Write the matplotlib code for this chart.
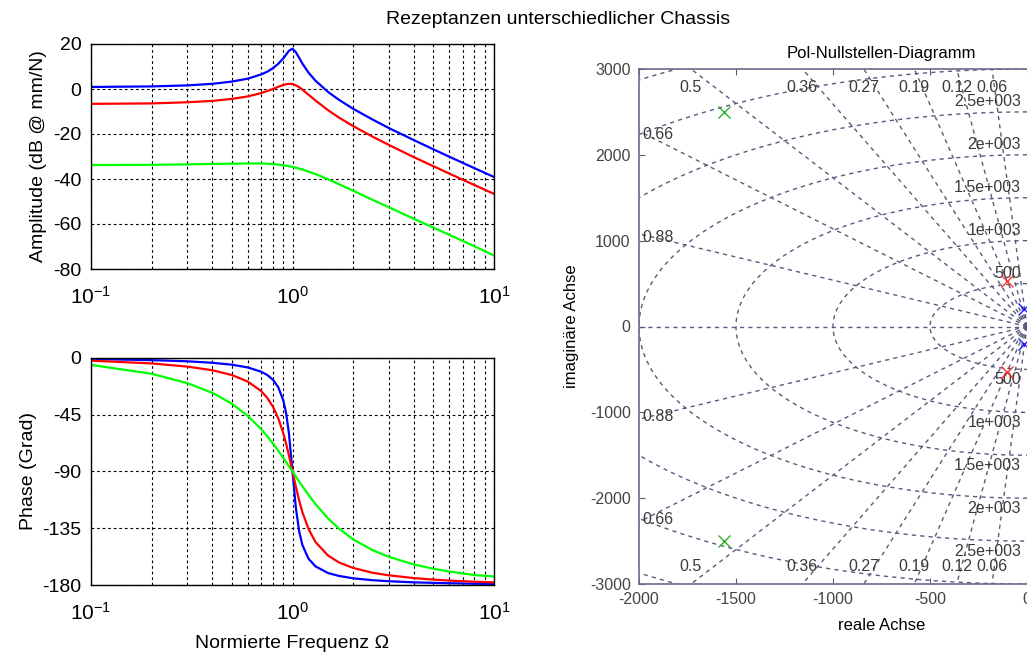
import numpy as np
import matplotlib
matplotlib.use("Agg")
import matplotlib.pyplot as plt

plt.rcParams['font.family'] = ['Liberation Sans', 'DejaVu Sans']
plt.rcParams['mathtext.default'] = 'regular'
plt.rcParams['axes.unicode_minus'] = False

# normierte Frequenz
omega = [0.1, 0.2, 0.3, 0.4, 0.5, 0.6, 0.7, 0.75, 0.8, 0.85, 0.9, 0.93, 0.96, 1.0,
         1.04, 1.08, 1.12, 1.2, 1.3, 1.5, 1.7, 2, 2.5, 3, 4, 5, 6, 8, 10]

# Amplitude in dB
amp_blue = [0.9, 1.15, 1.6, 2.3, 3.3, 4.6, 6.5, 7.7, 9.3, 11.2, 13.6, 15.3, 17.0, 17.9,
            16.3, 13.8, 11.3, 7.3, 3.7, -1.3, -4.8, -8.8, -13.6, -17.3, -22.7, -26.8,
            -30.1, -35.2, -39.1]
amp_red = [-6.6, -6.4, -5.9, -5.3, -4.4, -3.3, -1.8, -0.9, 0.0, 1.0, 1.8, 2.1, 2.3, 2.2,
           1.6, 0.8, -0.3, -2.5, -5.1, -9.4, -12.7, -16.5, -21.2, -24.8, -30.3, -34.3,
           -37.6, -42.7, -46.6]
amp_green = [-33.8, -33.7, -33.5, -33.3, -33.2, -33.1, -33.1, -33.2, -33.4, -33.6, -33.9,
             -34.1, -34.3, -34.6, -35.0, -35.4, -35.8, -36.7, -37.8, -40.1, -42.3, -45.2,
             -49.3, -52.5, -57.7, -61.6, -64.8, -69.9, -74.0]

# Phase in Grad
phase_blue = [-0.8, -1.7, -2.6, -3.8, -5.3, -7.5, -10.9, -13.5, -17.3, -23.2, -33.6, -43.9,
              -59.7, -90.0, -119.3, -137.7, -148.4, -159.1, -165.2, -170.5, -172.8, -174.7,
              -176.2, -177.0, -177.9, -178.3, -178.6, -179.0, -179.2]
phase_red = [-2.1, -4.3, -6.8, -9.7, -13.5, -18.7, -26.3, -31.7, -38.7, -47.8, -59.6, -68.0,
             -77.2, -90.0, -102.3, -113.2, -122.3, -135.5, -145.9, -156.6, -162.1, -166.5,
             -170.3, -172.3, -174.5, -175.7, -176.5, -177.4, -177.9]
phase_green = [-5.5, -12.5, -19.9, -27.6, -36.2, -45.9, -56.5, -62.1, -67.8, -73.5, -79.1,
               -82.5, -85.8, -90.0, -94.1, -98.0, -101.7, -108.4, -115.8, -127.2, -135.3,
               -143.8, -152.4, -157.6, -163.7, -167.1, -169.3, -172.1, -173.2]

# Pole (Realteil, Imaginaerteil)
poles_blue = ([-15, -15], [200, -200])
poles_red = ([-103, -103], [525, -525])
poles_green = ([-1560, -1560], [2500, -2500])

# Gitter des Pol-Nullstellen-Diagramms
zeta_vals = [0.06, 0.12, 0.19, 0.27, 0.36, 0.5, 0.66, 0.88]
zeta_labels = ['0.06', '0.12', '0.19', '0.27', '0.36', '0.5', '0.66', '0.88']
wn_vals = [500, 1000, 1500, 2000, 2500, 3000, 3500]
wn_labels = ['500', '1e+003', '1.5e+003', '2e+003', '2.5e+003']


def main():
    W, H = 1027, 654
    fig = plt.figure(figsize=(W / 100, H / 100), dpi=100)

    def box(l, t, r, b):
        return [l / W, 1 - b / H, (r - l) / W, (b - t) / H]

    ax1 = fig.add_axes(box(91, 44, 494, 269))
    ax2 = fig.add_axes(box(91, 358, 494, 585))
    ax3 = fig.add_axes(box(639, 69, 1124, 584))

    fig.text(558 / W, 1 - 20 / H, 'Rezeptanzen unterschiedlicher Chassis',
             ha='center', va='center', fontsize=14)

    grid_kw = dict(color='black', linestyle=(0, (2.5, 2.5)), linewidth=0.8)
    for ax, blue, red, green in [(ax1, amp_blue, amp_red, amp_green),
                                  (ax2, phase_blue, phase_red, phase_green)]:
        ax.semilogx(omega, blue, color='#0000ff', lw=1.6)
        ax.semilogx(omega, red, color='#ff0000', lw=1.6)
        ax.semilogx(omega, green, color='#00ff00', lw=1.6)
        ax.set_xlim(0.1, 10)
        ax.grid(True, which='both', axis='x', **grid_kw)
        ax.grid(True, which='major', axis='y', **grid_kw)
        ax.tick_params(which='both', direction='in', top=True, right=True,
                       labelsize=14, length=0, pad=7)
        ax.tick_params(axis='x', which='both', labelsize=15, pad=12)
        for s in ax.spines.values():
            s.set_linewidth(1.0)

    ax1.set_ylim(-80, 20)
    ax1.set_yticks([-80, -60, -40, -20, 0, 20])
    ax1.set_ylabel('Amplitude (dB @ mm/N)', fontsize=14)
    ax2.set_ylim(-180, 0)
    ax2.set_yticks([-180, -135, -90, -45, 0])
    ax2.set_ylabel('Phase (Grad)', fontsize=14)
    ax2.set_xlabel('Normierte Frequenz Ω', fontsize=14, labelpad=8)

    # Pol-Nullstellen-Diagramm
    gcol = '#5a5a7e'
    gkw = dict(color=gcol, linestyle=(0, (3, 3)), linewidth=1.0, zorder=1)
    xmin, xmax, ymin, ymax = -2000, 500, -3000, 3000
    r = 5000
    for z in zeta_vals:
        s = np.sqrt(1 - z ** 2)
        ax3.plot([0, -r * z], [0, r * s], **gkw)
        ax3.plot([0, -r * z], [0, -r * s], **gkw)
    ax3.plot([0, -r], [0, 0], **gkw)
    th = np.linspace(np.pi / 2, 3 * np.pi / 2, 300)
    for wn in wn_vals:
        ax3.plot(wn * np.cos(th), wn * np.sin(th), **gkw)

    lab_kw = dict(fontsize=11.5, color='#3a3a3a', zorder=3)
    for z, lab in zip(zeta_vals, zeta_labels):
        s = np.sqrt(1 - z ** 2)
        xt = -ymax * z / s
        if xt >= xmin:
            ax3.text(xt, 2780, lab, ha='center', va='center', **lab_kw)
            ax3.text(xt, -2800, lab, ha='center', va='center', **lab_kw)
        else:
            yl = -xmin * s / z
            ax3.text(xmin + 15, yl - 45, lab, ha='left', va='center', **lab_kw)
            ax3.text(xmin + 15, -(yl - 30), lab, ha='left', va='center', **lab_kw)
    for wn, lab in zip(wn_vals, wn_labels):
        ax3.text(-30, wn + 120, lab, ha='right', va='center', **lab_kw)
        ax3.text(-30, -(wn + 120), lab, ha='right', va='center', **lab_kw)

    mk = dict(marker='x', linestyle='none', markersize=8, mew=1.0, zorder=4)
    ax3.plot(*poles_blue, color='#2020ff', **mk)
    ax3.plot(*poles_red, color='#ff3030', **mk)
    ax3.plot(*poles_green, color='#30b030', **mk)

    ax3.set_xlim(xmin, xmax)
    ax3.set_ylim(ymin, ymax)
    ax3.set_xticks([-2000, -1500, -1000, -500, 0, 500])
    ax3.set_yticks([-3000, -2000, -1000, 0, 1000, 2000, 3000])
    ax3.tick_params(direction='in', top=True, right=True, labelsize=11.5,
                    labelcolor='#444444', color=gcol, length=4, pad=6)
    for s in ax3.spines.values():
        s.set_color('#6a6a8a')
        s.set_linewidth(1.2)
    ax3.set_title('Pol-Nullstellen-Diagramm', fontsize=12, pad=8)
    ax3.set_xlabel('reale Achse', fontsize=12, labelpad=8)
    ax3.set_ylabel('imaginäre Achse', fontsize=12, labelpad=8)

    fig.savefig('out.png', dpi=100)


if __name__ == "__main__":
    main()
